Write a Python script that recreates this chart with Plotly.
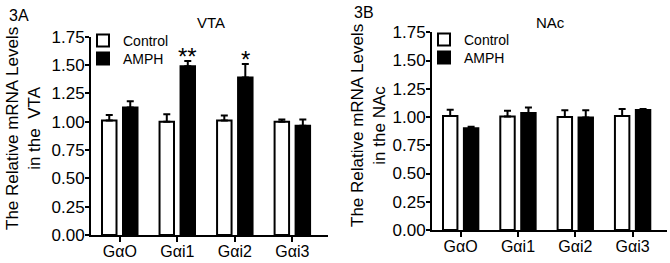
import plotly.graph_objects as go

W, H = 670, 263

categories = ["GαO", "Gαi1", "Gαi2", "Gαi3"]

vta_control = [1.01, 1.00, 1.01, 1.00]
vta_control_err = [0.05, 0.065, 0.045, 0.02]
vta_amph = [1.125, 1.49, 1.39, 0.965]
vta_amph_err = [0.055, 0.045, 0.12, 0.055]

nac_control = [1.01, 1.005, 1.00, 1.01]
nac_control_err = [0.055, 0.05, 0.06, 0.06]
nac_amph = [0.90, 1.035, 0.995, 1.063]
nac_amph_err = [0.015, 0.05, 0.065, 0.008]

y_ticks = [0, 0.25, 0.5, 0.75, 1.0, 1.25, 1.5, 1.75]
y_tick_labels = ["0.00", "0.25", "0.50", "0.75", "1.00", "1.25", "1.50", "1.75"]

sig_vta = {"Gαi1": "**", "Gαi2": "*"}

FONT = "Liberation Sans, Arial, sans-serif"
BARGAP = 0.27
BARGROUPGAP = 0.31

fig = go.Figure()


def add_pair(ctrl, ctrl_err, amph, amph_err, xa, ya, leg_c, leg_a):
    fig.add_trace(go.Bar(
        x=categories, y=ctrl, name="Control", xaxis=xa, yaxis=ya, legend=leg_c,
        marker=dict(color="white", line=dict(color="black", width=2)),
        error_y=dict(type="data", symmetric=False, array=ctrl_err,
                     arrayminus=[0] * len(ctrl), color="black", thickness=2, width=3.5),
    ))
    fig.add_trace(go.Bar(
        x=categories, y=amph, name="AMPH", xaxis=xa, yaxis=ya, legend=leg_a,
        marker=dict(color="black", line=dict(color="black", width=2)),
        error_y=dict(type="data", symmetric=False, array=amph_err,
                     arrayminus=[0] * len(amph), color="black", thickness=2, width=3.5),
    ))


add_pair(vta_control, vta_control_err, vta_amph, vta_amph_err, "x", "y", "legend", "legend3")
add_pair(nac_control, nac_control_err, nac_amph, nac_amph_err, "x2", "y2", "legend2", "legend4")


def px_x(p):
    return p / W


def px_y(p):
    return (H - p) / H


line_common = dict(
    showline=True, linecolor="black", linewidth=2, ticks="outside",
    tickcolor="black", tickwidth=2, showgrid=False, zeroline=False, automargin=False,
)
xfont = dict(family=FONT, size=16, color="black")
yfont = dict(family=FONT, size=17, color="black")


def leg(xp, yp):
    return dict(x=px_x(xp), y=px_y(yp), xanchor="left", yanchor="middle",
                bgcolor="rgba(0,0,0,0)", font=dict(family=FONT, size=14, color="black"),
                itemwidth=30)


fig.update_layout(
    width=W, height=H, margin=dict(l=0, r=0, t=0, b=0, autoexpand=False),
    paper_bgcolor="white", plot_bgcolor="white",
    barmode="group", bargap=BARGAP, bargroupgap=BARGROUPGAP,
    font=dict(family=FONT, color="black"),
    xaxis=dict(domain=[px_x(91), px_x(328)], anchor="y", range=[-0.5, 3.62],
               ticklen=5, tickfont=xfont, ticklabelstandoff=-4, **line_common),
    yaxis=dict(domain=[px_y(235), px_y(36.7)], anchor="x", range=[0, 1.75],
               tickvals=y_ticks, ticktext=y_tick_labels, ticklen=4, tickfont=yfont,
               ticklabelstandoff=-3, **line_common),
    xaxis2=dict(domain=[px_x(432), px_x(667)], anchor="y2", range=[-0.5, 3.6],
                ticklen=5, tickfont=xfont, ticklabelstandoff=-4, **line_common),
    yaxis2=dict(domain=[px_y(230), px_y(32.3)], anchor="x2", range=[0, 1.75],
                tickvals=y_ticks, ticktext=y_tick_labels, ticklen=4, tickfont=yfont,
                ticklabelstandoff=-3, **line_common),
    legend=leg(83, 41),
    legend3=leg(83, 59),
    legend2=leg(424, 40),
    legend4=leg(424, 58),
    showlegend=True,
)

annotations = [
    dict(text="3A", x=px_x(7), y=px_y(15), xref="paper", yref="paper",
         xanchor="left", yanchor="middle", showarrow=False, font=dict(size=16, family=FONT)),
    dict(text="3B", x=px_x(352), y=px_y(13), xref="paper", yref="paper",
         xanchor="left", yanchor="middle", showarrow=False, font=dict(size=16, family=FONT)),
    dict(text="VTA", x=px_x(211), y=px_y(22), xref="paper", yref="paper",
         xanchor="center", yanchor="middle", showarrow=False, font=dict(size=15, family=FONT)),
    dict(text="NAc", x=px_x(550), y=px_y(23), xref="paper", yref="paper",
         xanchor="center", yanchor="middle", showarrow=False, font=dict(size=15, family=FONT)),
    dict(text="The Relative mRNA Levels<br>in the  VTA", x=px_x(23), y=px_y(129),
         xref="paper", yref="paper", xanchor="center", yanchor="middle", textangle=-90,
         showarrow=False, font=dict(size=17, family=FONT)),
    dict(text="The Relative mRNA Levels<br>in the NAc", x=px_x(368), y=px_y(126),
         xref="paper", yref="paper", xanchor="center", yanchor="middle", textangle=-90,
         showarrow=False, font=dict(size=17, family=FONT)),
]

slot_offset = (1 - BARGAP) / 4
for cat, mark in sig_vta.items():
    i = categories.index(cat)
    top = vta_amph[i] + vta_amph_err[i]
    annotations.append(dict(
        text=mark, x=i + slot_offset, y=top, xref="x", yref="y",
        xanchor="center", yanchor="bottom", showarrow=False,
        font=dict(size=24, family=FONT), yshift=-11,
    ))

fig.update_layout(annotations=annotations)

fig.write_html(
    "out.html",
    config={"displayModeBar": False},
    post_script="document.body.style.margin='0';document.body.style.padding='0';",
)
